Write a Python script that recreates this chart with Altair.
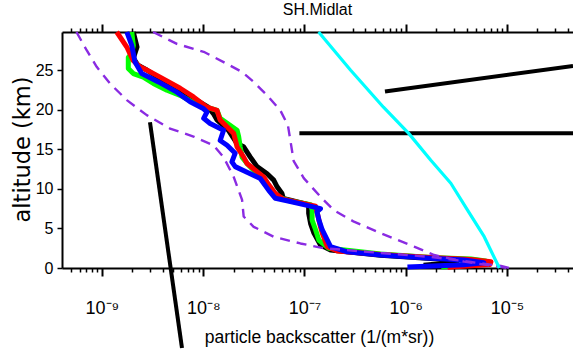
import altair as alt
import pandas as pd

# ---------------- text ----------------
chart_title = "SH.Midlat"
x_title = "particle backscatter (1/(m*sr))"
y_title = "altitude (km)"

# ---------------- axes ----------------
x_domain = [4.03e-10, 4.49e-5]
y_domain = [0, 29.8]
x_major_ticks = [1e-9, 1e-8, 1e-7, 1e-6, 1e-5]
x_major_labels = ["10⁻⁹", "10⁻⁸", "10⁻⁷", "10⁻⁶", "10⁻⁵"]
x_decades = [1e-10, 1e-9, 1e-8, 1e-7, 1e-6, 1e-5]
x_minor_mults = [2, 3, 4, 5, 6, 7, 8, 9]
y_ticks = [0, 5, 10, 15, 20, 25]

# ---------------- profiles ----------------
black_alt = [29.8, 27.9, 26.5, 25.6, 25.0, 23.9, 22.5, 21.3, 20.3, 19.5, 18.7, 17.4, 15.7, 15.3,
             14.0, 12.8, 11.9, 11.1, 10.25, 9.4, 8.8, 8.4, 8.0, 6.9, 5.6, 4.4, 2.9, 2.27, 1.6,
             1.2, 0.85, 0.6, 0.35]
black_val = [2.04e-9, 2.22e-9, 2.04e-9, 2.27e-9, 2.77e-9, 3.75e-9, 5.92e-9, 8.34e-9, 1.12e-8,
             1.26e-8, 1.37e-8, 1.77e-8, 2.16e-8, 2.51e-8, 2.92e-8, 3.40e-8, 4.28e-8, 4.97e-8,
             5.37e-8, 6.0e-8, 6.18e-8, 8.15e-8, 1.10e-7, 1.10e-7, 1.15e-7, 1.24e-7, 1.44e-7,
             1.81e-7, 5.65e-7, 1.77e-6, 3.2e-6, 2.5e-6, 1.5e-6]

green_alt = [29.8, 28.1, 27.1, 26.6, 25.2, 24.55, 24.1, 23.3, 22.45, 21.8, 21.0, 20.55, 19.9, 18.9,
             17.4, 16.6, 15.3, 14.0, 13.2, 11.9, 11.3, 10.05, 9.0, 8.45, 8.0, 7.3, 6.05, 4.8, 3.5,
             2.5, 1.77, 1.32, 1.13, 0.88, 0.5, 0.13]
green_val = [1.97e-9, 2.04e-9, 1.97e-9, 1.82e-9, 1.82e-9, 2.04e-9, 2.56e-9, 3.22e-9, 4.38e-9,
             5.92e-9, 7.73e-9, 9.33e-9, 1.37e-8, 1.47e-8, 2.16e-8, 2.24e-8, 2.32e-8, 2.42e-8,
             2.71e-8, 3.40e-8, 3.95e-8, 4.60e-8, 5.37e-8, 7.26e-8, 1.15e-7, 1.19e-7, 1.19e-7,
             1.29e-7, 1.39e-7, 1.74e-7, 5.65e-7, 1.77e-6, 4.41e-6, 6.17e-6, 4.41e-6, 2.24e-6]

red_alt = [29.8, 27.9, 26.2, 25.4, 25.0, 24.1, 22.7, 21.6, 20.3, 19.9, 18.7, 17.0, 15.3, 14.0,
           13.2, 11.5, 10.5, 9.4, 8.7, 8.2, 7.8, 6.9, 6.05, 5.2, 4.4, 2.7, 2.15, 1.7, 1.32, 1.07,
           0.8, 0.45, 0.1]
red_val = [1.40e-9, 1.76e-9, 2.03e-9, 2.38e-9, 2.77e-9, 3.75e-9, 5.92e-9, 8.02e-9, 1.09e-8,
           1.37e-8, 1.47e-8, 2.00e-8, 2.16e-8, 2.51e-8, 2.71e-8, 3.95e-8, 4.44e-8, 5.16e-8,
           6.17e-8, 9.12e-8, 1.29e-7, 1.34e-7, 1.39e-7, 1.44e-7, 1.50e-7, 1.68e-7, 2.11e-7,
           5.65e-7, 1.77e-6, 4.41e-6, 6.95e-6, 6.8e-6, 2.6e-6]

blue_alt = [29.8, 28.1, 26.0, 24.55, 23.5, 22.2, 21.0, 20.1, 19.7, 18.9, 18.25, 17.4, 16.1, 15.5,
            14.5, 13.4, 12.8, 12.1, 11.3, 9.8, 8.8, 8.4, 7.9, 7.5, 7.1, 6.05, 4.8, 2.7, 2.05, 1.64,
            1.22, 1.0, 0.67, 0.4, 0.12]
blue_val = [1.76e-9, 1.97e-9, 2.12e-9, 2.47e-9, 3.61e-9, 5.50e-9, 7.43e-9, 1.01e-8, 1.09e-8,
            1.01e-8, 1.17e-8, 1.59e-8, 1.47e-8, 1.72e-8, 2.07e-8, 1.92e-8, 2.07e-8, 2.71e-8,
            3.66e-8, 4.44e-8, 5.16e-8, 7.26e-8, 1.06e-7, 1.44e-7, 1.33e-7, 1.39e-7, 1.50e-7,
            1.81e-7, 2.65e-7, 5.65e-7, 1.77e-6, 3.75e-6, 5.9e-6, 3.75e-6, 1.04e-6]

# envelope (dashed purple)
env_low_alt = [29.8, 27.5, 25.4, 23.3, 21.2, 19.3, 17.6, 16.6, 15.5, 14.0, 11.5, 8.6, 6.5, 5.2,
               3.95, 3.1, 2.5, 1.9, 1.4, 0.76, 0.25, 0.0]
env_low_val = [5.6e-10, 7.06e-10, 8.87e-10, 1.20e-9, 1.76e-9, 2.77e-9, 4.71e-9, 8.02e-9, 1.26e-8,
               1.59e-8, 2.00e-8, 2.42e-8, 2.51e-8, 3.15e-8, 4.97e-8, 9.12e-8, 1.55e-7, 5.65e-7,
               1.77e-6, 4.41e-6, 8.73e-6, 1.05e-5]
env_high_alt = [29.8, 28.3, 27.3, 26.0, 24.75, 23.5, 21.8, 19.9, 18.0, 16.1, 13.5, 11.35, 9.0, 7.3,
                5.85, 4.4, 2.7, 1.64, 0.8, 0.38, 0.0]
env_high_val = [3.2e-9, 5.50e-9, 1.01e-8, 1.59e-8, 2.42e-8, 3.15e-8, 4.28e-8, 5.78e-8, 6.87e-8,
                7.26e-8, 7.83e-8, 9.84e-8, 1.44e-7, 1.95e-7, 3.08e-7, 5.65e-7, 1.21e-6, 1.91e-6,
                3.78e-6, 6.44e-6, 1.02e-5]

# cyan reference
cyan_alt = [29.8, 24.97, 20.3, 17.0, 13.6, 10.7, 7.3, 3.95, 0.0]
cyan_val = [1.38e-7, 2.86e-7, 6.03e-7, 1.07e-6, 1.77e-6, 2.79e-6, 4.08e-6, 5.96e-6, 8.41e-6]

# black straight segments
seg_h_alt = [17.0, 17.0]
seg_h_val = [8.91e-8, 5.0e-5]
seg_s_alt = [22.3, 25.5]
seg_s_val = [6.24e-7, 4.49e-5]
seg_v_alt = [18.4, -10.1]
seg_v_val = [2.98e-9, 6.17e-9]

# ---------------- styling ----------------
SANS = "Liberation Sans, Arial, sans-serif"
PURPLE = "#8a2be2"

x_minor_ticks = [d * m for d in x_decades for m in x_minor_mults
                 if x_domain[0] <= d * m <= x_domain[1]]

label_expr = "''"
for v, lab in zip(reversed(x_major_ticks), reversed(x_major_labels)):
    label_expr = f"abs(log(datum.value) - log({v})) < 0.01 ? '{lab}' : ({label_expr})"

xscale = alt.Scale(type="log", domain=x_domain, nice=False)
yscale = alt.Scale(domain=y_domain, nice=False, zero=False)

common_axis = dict(domainColor="black", tickColor="black", grid=False)

ax_bottom_major = alt.Axis(orient="bottom", values=x_major_ticks, labelExpr=label_expr,
                           tickSize=8, tickWidth=2, domainWidth=2, labelFont=SANS,
                           labelFontSize=18, labelColor="black", labelPadding=23,
                           labelFlush=False, labelOverlap=False, title=x_title,
                           titleFont=SANS, titleFontSize=17.5, titleFontWeight="normal",
                           titleColor="black", titleBaseline="alphabetic",
                           titleX=257, titleY=74, titleAlign="center", **common_axis)
ax_bottom_minor = alt.Axis(orient="bottom", values=x_minor_ticks, labels=False, domain=False,
                           tickSize=4, tickWidth=1.5, title=None, **common_axis)
ax_top_major = alt.Axis(orient="top", values=x_major_ticks, labels=False, tickSize=8,
                        tickWidth=2, domainWidth=2, title=None, **common_axis)
ax_top_minor = alt.Axis(orient="top", values=x_minor_ticks, labels=False, domain=False,
                        tickSize=4, tickWidth=1.5, title=None, **common_axis)
ax_left = alt.Axis(orient="left", values=y_ticks, tickSize=5, tickWidth=1.5, domainWidth=2,
                   labelFont=SANS, labelFontSize=16, labelColor="black", labelPadding=4,
                   labelFlush=False, title=y_title, titleFont="DejaVu Sans",
                   titleFontSize=22.5, titleFontWeight="normal", titleColor="black",
                   titleAngle=270, titleBaseline="alphabetic", titleAlign="center",
                   titleX=-33, titleY=117, **common_axis)


def line_layer(alts, vals, color, width, dash=None, xaxis=None):
    df = pd.DataFrame({"altitude": alts, "val": vals, "i": list(range(len(alts)))})
    kw = dict(color=color, strokeWidth=width, strokeJoin="round", clip=False)
    if dash is not None:
        kw["strokeDash"] = dash
    return alt.Chart(df).mark_line(**kw).encode(
        x=alt.X("val:Q", scale=xscale, axis=xaxis),
        y=alt.Y("altitude:Q", scale=yscale, axis=ax_left),
        order=alt.Order("i:Q"),
    )


layers = [
    line_layer(seg_h_alt, seg_h_val, "black", 4, xaxis=ax_bottom_major),
    line_layer(seg_s_alt, seg_s_val, "black", 4, xaxis=ax_bottom_minor),
    line_layer(seg_v_alt, seg_v_val, "black", 4, xaxis=ax_top_major),
    line_layer(black_alt, black_val, "black", 5, xaxis=ax_top_minor),
    line_layer(green_alt, green_val, "#00ff00", 5),
    line_layer(red_alt, red_val, "#ff0000", 5),
    line_layer(blue_alt, blue_val, "#0000ff", 5),
    line_layer(env_low_alt, env_low_val, PURPLE, 2.4, dash=[10, 7]),
    line_layer(env_high_alt, env_high_val, PURPLE, 2.4, dash=[10, 7]),
    line_layer(cyan_alt, cyan_val, "#00ffff", 3.2),
]

chart = alt.layer(*layers).resolve_axis(x="independent").properties(
    width=511,
    height=236,
    autosize=alt.AutoSizeParams(type="none"),
    padding={"left": 62, "top": 32, "right": 0, "bottom": 96},
    background="white",
    title=alt.TitleParams(chart_title, font=SANS, fontSize=16, fontWeight="normal",
                          color="black", anchor="middle", baseline="alphabetic", offset=-8),
).configure_view(stroke=None)

chart.save("out.html", embed_options={"renderer": "svg", "actions": False})
